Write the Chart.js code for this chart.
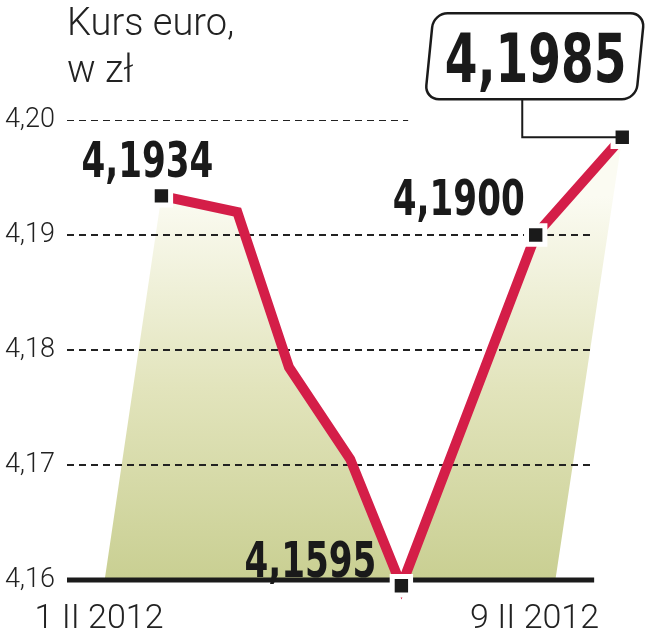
<!DOCTYPE html>
<html>
<head>
<meta charset="utf-8">
<script src="https://cdn.jsdelivr.net/npm/chart.js@4.4.1/dist/chart.umd.min.js"></script>
<style>
  html, body { margin: 0; padding: 0; background: #fff; }
  #wrap { width: 647px; height: 640px; }
</style>
</head>
<body>
<div id="wrap"><canvas id="kurs"></canvas></div>
<script>
// dane
const positions = [16.8, 30.3, 39.5, 50.4, 59.5, 83.4, 98.8];
const rates = [4.1934, 4.1920, 4.1785, 4.1705, 4.1595, 4.1900, 4.1985];
const labelledPoints = [0, 4, 5, 6];
const yTicks = [4.16, 4.17, 4.18, 4.19, 4.20];
const xTickPositions = [5.7, 83.2];
const xTickLabels = ["1 II 2012", "9 II 2012"];
const titleLines = ["Kurs euro,", "w zł"];

const Y_MIN = yTicks[0];
const Y_MAX = yTicks[yTicks.length - 1];

const fmt = (v) => v.toFixed(4).replace(".", ",");
const points = positions.map((x, i) => ({ x, y: rates[i] }));

// obszar pod linia (ze skosem po bokach) - zamkniety ksztalt
const fillData = [
  { x: positions[0] - 10.1, y: Y_MIN },
  ...points,
  { x: positions[positions.length - 1] - 11.9, y: Y_MIN },
];

// linie siatki
const gridEnd = 93.8;
const gridDatasets = yTicks.slice(1).map((v) => ({
  data: [{ x: 0, y: v }, { x: v === Y_MAX ? 60.7 : gridEnd, y: v }],
  borderColor: "#222",
  borderWidth: 2,
  borderDash: [7, 5],
  pointRadius: 0,
  fill: false,
  order: 4,
}));

const LABEL_FONT = "'DejaVu Sans Condensed', 'DejaVu Sans', sans-serif";

// tekst scisniety w poziomie
const narrowText = (ctx, text, x, y, align, sx) => {
  const w = ctx.measureText(text).width * sx;
  let left = x;
  if (align === "center") left = x - w / 2;
  if (align === "right") left = x - w;
  ctx.save();
  ctx.translate(left, y);
  ctx.scale(sx, 1);
  ctx.textAlign = "left";
  ctx.fillText(text, 0, 0);
  ctx.restore();
};

const annotations = {
  id: "annotations",
  afterDraw(chart) {
    const ctx = chart.ctx;
    const meta = chart.getDatasetMeta(chart.data.datasets.length - 1);
    const pts = meta.data;

    // tytul
    ctx.save();
    ctx.fillStyle = "#222";
    ctx.font = "300 38px Roboto";
    ctx.textBaseline = "alphabetic";
    ctx.textAlign = "left";
    ctx.fillText(titleLines[0], 67, 35);
    ctx.fillText(titleLines[1], 67, 82);
    ctx.restore();

    // etykiety wartosci
    const place = {
      0: { dx: -14, dy: -19, align: "center" },
      4: { dx: -25, dy: -9, align: "right" },
      5: { dx: -11, dy: -20, align: "right" },
    };
    ctx.save();
    ctx.fillStyle = "#1a1a1a";
    ctx.font = "bold 50px " + LABEL_FONT;
    ctx.textBaseline = "alphabetic";
    labelledPoints.forEach((i) => {
      const p = place[i];
      if (!p) return;
      narrowText(ctx, fmt(rates[i]), pts[i].x + p.dx, pts[i].y + p.dy, p.align, 0.76);
    });
    ctx.restore();

    // ramka z ostatnim kursem
    const last = pts[pts.length - 1];
    const bx = last.x - 193, by = last.y - 124, bw = 211, bh = 86;
    ctx.save();
    ctx.strokeStyle = "#1a1a1a";
    ctx.lineWidth = 2;
    ctx.beginPath();
    ctx.moveTo(last.x - 100, by + bh);
    ctx.lineTo(last.x - 100, last.y);
    ctx.lineTo(last.x - 6, last.y);
    ctx.stroke();

    ctx.translate(bx + bw / 2, by + bh / 2);
    ctx.transform(1, 0, -0.1, 1, 0, 0);
    ctx.beginPath();
    ctx.roundRect(-bw / 2, -bh / 2, bw, bh, 14);
    ctx.fillStyle = "#fff";
    ctx.fill();
    ctx.lineWidth = 2.5;
    ctx.stroke();
    ctx.setTransform(1, 0, 0, 1, 0, 0);
    ctx.fillStyle = "#1a1a1a";
    ctx.font = "bold 68px " + LABEL_FONT;
    narrowText(ctx, fmt(rates[rates.length - 1]), bx + bw / 2 + 1, by + 69, "center", 0.77);
    ctx.restore();
  },
};

const ctx = document.getElementById("kurs").getContext("2d");

new Chart(ctx, {
  type: "line",
  data: {
    datasets: [
      {
        data: fillData,
        borderWidth: 0,
        borderColor: "rgba(0,0,0,0)",
        pointRadius: 0,
        fill: "shape",
        clip: false,
        order: 5,
        backgroundColor: (c) => {
          const a = c.chart.chartArea;
          if (!a) return "#e0e2bd";
          const top = c.chart.scales.y.getPixelForValue(rates[0]);
          const g = c.chart.ctx.createLinearGradient(0, a.bottom, 0, top);
          g.addColorStop(0, "#c9cf92");
          g.addColorStop(0.5, "#e2e4bc");
          g.addColorStop(1, "#fbfbf2");
          return g;
        },
      },
      ...gridDatasets,
      {
        data: [{ x: 0, y: Y_MIN }, { x: gridEnd, y: Y_MIN }],
        borderColor: "#1b1b1b",
        borderWidth: 5,
        pointRadius: 0,
        fill: false,
        clip: false,
        order: 3,
      },
      {
        data: points,
        borderColor: "#d41e48",
        borderWidth: 10,
        borderJoinStyle: "miter",
        fill: false,
        clip: false,
        pointStyle: "rect",
        pointRadius: points.map((p, i) => (labelledPoints.includes(i) ? 13 : 0)),
        pointBackgroundColor: "#1a1a1a",
        pointBorderColor: "#fff",
        pointBorderWidth: 5,
        order: 1,
      },
    ],
  },
  options: {
    responsive: true,
    maintainAspectRatio: false,
    animation: false,
    layout: { padding: { top: 120, right: 15, left: 0, bottom: 0 } },
    plugins: {
      legend: { display: false },
      tooltip: { enabled: false },
    },
    scales: {
      x: {
        type: "linear",
        min: 0,
        max: 100,
        afterBuildTicks: (s) => { s.ticks = xTickPositions.map((v) => ({ value: v })); },
        afterFit: (s) => { s.height = 60; },
        grid: { display: false, drawTicks: false },
        border: { display: false },
        ticks: {
          padding: 19,
          autoSkip: false,
          maxRotation: 0,
          color: "#222",
          font: { family: "Roboto", size: 34, weight: 300 },
          callback: (v, i) => xTickLabels[i],
        },
      },
      y: {
        min: Y_MIN,
        max: Y_MAX,
        afterBuildTicks: (s) => { s.ticks = yTicks.map((v) => ({ value: v })); },
        afterFit: (s) => { s.width = 67; },
        grid: { display: false, drawTicks: false },
        border: { display: false },
        ticks: {
          padding: 12,
          color: "#222",
          font: { family: "Roboto", size: 27, weight: 300 },
          callback: (v) => v.toFixed(2).replace(".", ","),
        },
      },
    },
  },
  plugins: [annotations],
});
</script>
</body>
</html>
